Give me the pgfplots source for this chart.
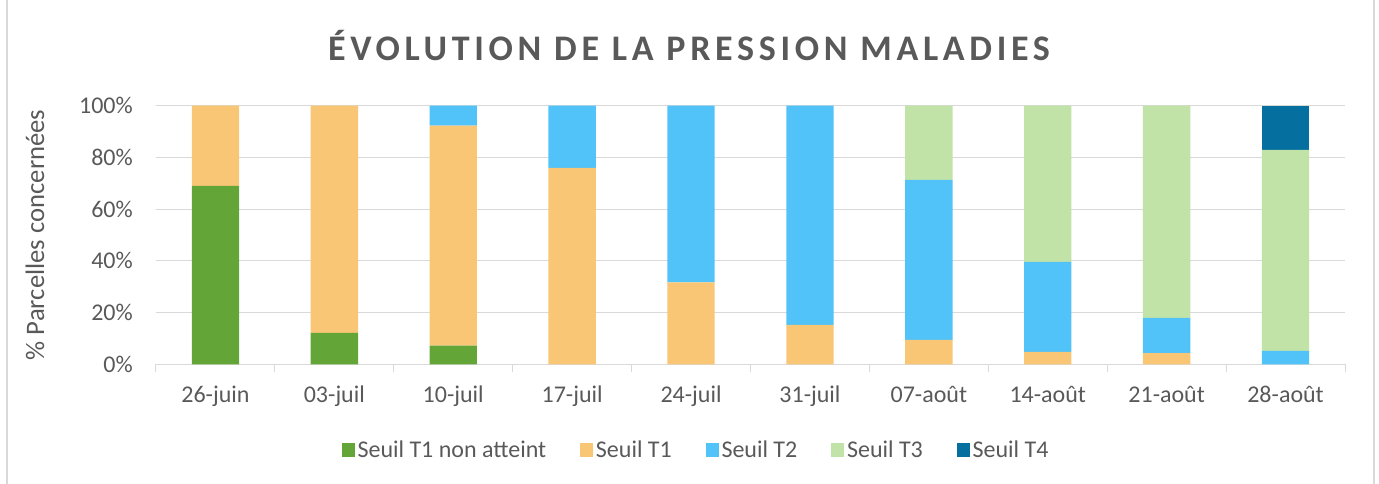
\documentclass[border=0pt]{standalone}
\usepackage{pgfplots}
\pgfplotsset{compat=1.18}
\usepackage{fontspec}
\setmainfont{Carlito}
\newfontfamily\titlefont[LetterSpace=13]{Carlito}
\definecolor{txtGray}{HTML}{595959}
\definecolor{gridGray}{HTML}{D9D9D9}
\definecolor{sGreen}{HTML}{63A537}
\definecolor{sOrange}{HTML}{F9C675}
\definecolor{sBlue}{HTML}{51C3F9}
\definecolor{sLight}{HTML}{C1E3A8}
\definecolor{sDark}{HTML}{0570A0}

\begin{document}
\begin{tikzpicture}
% 1 px of the reference = 0.75pt, axis origin at px (156,364.3)
\path[use as bounding box] (-117pt,-89.8pt) rectangle (917.25pt,273.2pt);
\draw[gridGray,line width=0.9pt] (-111.75pt,-89.8pt) -- (-111.75pt,273.2pt);
\draw[gridGray,line width=0.9pt] (913.5pt,-89.8pt) -- (913.5pt,273.2pt);
\begin{axis}[
  at={(0,0)},anchor=south west,
  scale only axis,width=891.75pt,height=194pt,
  ybar stacked,bar width=35.5pt,
  xmin=-0.5,xmax=9.5,ymin=0,ymax=100,
  xtick={0,...,9},
  xticklabels={26-juin,03-juil,10-juil,17-juil,24-juil,31-juil,07-août,14-août,21-août,28-août},
  minor xtick={-0.5,0.5,...,9.5},
  major tick length=0pt,minor tick length=6pt,
  tick align=outside,
  ytick={0,20,...,100},
  yticklabels={0\%,20\%,40\%,60\%,80\%,100\%},
  axis x line*=bottom,axis y line*=left,
  x axis line style={draw=gridGray,line width=0.75pt,-},
  y axis line style={draw=none},
  xtick style={draw=gridGray,line width=0.75pt},
  ytick style={draw=none},
  ymajorgrids,grid style={draw=gridGray,line width=0.75pt},
  tick label style={font=\fontsize{18}{20}\selectfont,text=txtGray},
  yticklabel style={xshift=-13.9pt},
  xticklabel style={anchor=base,yshift=-28.7pt},
  ylabel={\% Parcelles concernées},
  ylabel style={at={(axis description cs:-0.1018,0.5)},anchor=center,font=\fontsize{20}{22}\selectfont,text=txtGray},
  title={\titlefont\bfseries ÉVOLUTION DE LA PRESSION MALADIES},
  title style={at={(axis description cs:0.4483,1.145)},anchor=base,font=\fontsize{27}{30}\selectfont,text=txtGray},
  legend columns=5,
  legend style={at={(axis description cs:0.4546,-0.3314)},anchor=center,draw=none,fill=none,
    font=\fontsize{18}{20}\selectfont,text=txtGray,
    /tikz/every even column/.append style={column sep=23.5pt}},
  legend image code/.code={\fill[#1] (0pt,-4.9pt) rectangle (9.75pt,4.9pt);},
  every axis plot/.append style={draw=none},
]
\addplot[fill=sGreen] coordinates {(0,69) (1,12.1) (2,7.2) (3,0) (4,0) (5,0) (6,0) (7,0) (8,0) (9,0)};
\addplot[fill=sOrange] coordinates {(0,31) (1,87.9) (2,85.1) (3,75.9) (4,31.7) (5,15.2) (6,9.4) (7,4.8) (8,4.3) (9,0)};
\addplot[fill=sBlue] coordinates {(0,0) (1,0) (2,7.7) (3,24.1) (4,68.3) (5,84.8) (6,61.9) (7,34.8) (8,13.6) (9,5.2)};
\addplot[fill=sLight] coordinates {(0,0) (1,0) (2,0) (3,0) (4,0) (5,0) (6,28.7) (7,60.4) (8,82.1) (9,77.7)};
\addplot[fill=sDark] coordinates {(0,0) (1,0) (2,0) (3,0) (4,0) (5,0) (6,0) (7,0) (8,0) (9,17.1)};
\legend{Seuil T1 non atteint,Seuil T1,Seuil T2,Seuil T3,Seuil T4}
\end{axis}
\end{tikzpicture}
\end{document}
